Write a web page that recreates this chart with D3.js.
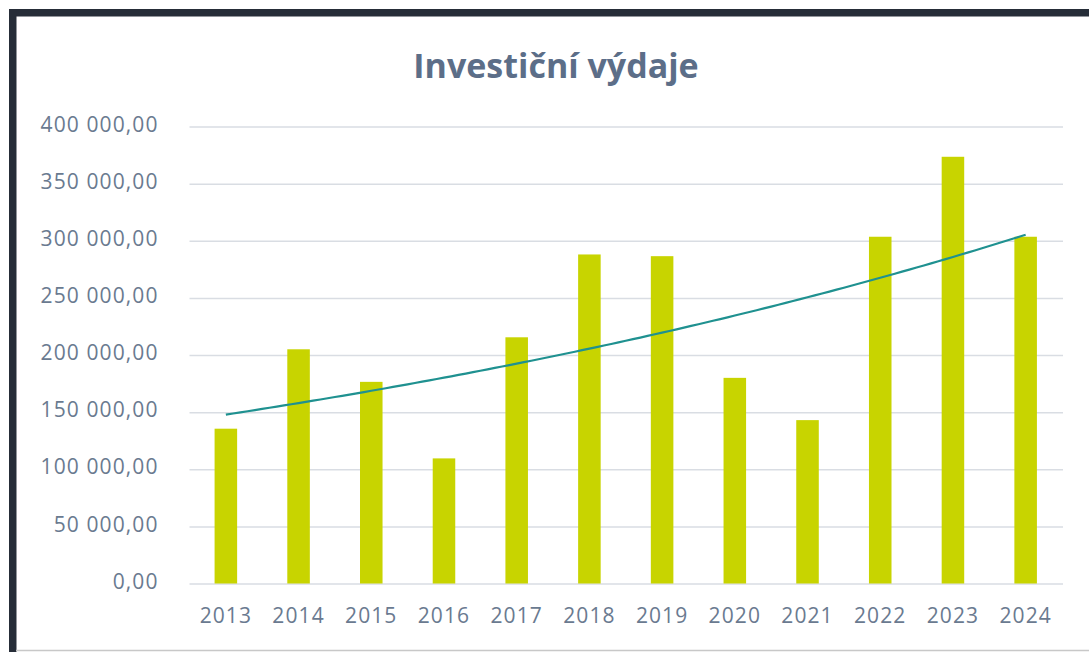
<!DOCTYPE html>
<html><head><meta charset="utf-8">
<script src="https://cdn.jsdelivr.net/npm/d3@7"></script>
<style>
html,body{margin:0;padding:0;background:#fff;}
svg{display:block;}
text{font-family:"Open Sans","Noto Sans",sans-serif;}
</style></head>
<body><svg id="c" width="1089" height="652"></svg>
<script>
const title = "Investiční výdaje";
const years = ["2013","2014","2015","2016","2017","2018","2019","2020","2021","2022","2023","2024"];
const values = [135500, 205000, 176500, 109500, 215500, 288000, 286500, 180000, 143000, 303500, 373500, 303500];
const yTicks = [0, 50000, 100000, 150000, 200000, 250000, 300000, 350000, 400000];

const svg = d3.select("#c");
const W = 1089, H = 652;
const plot = {left: 189.5, right: 1062, top: 126.5, bottom: 583.5};

// frame
svg.append("rect").attr("x",0).attr("y",0).attr("width",W).attr("height",H).attr("fill","#fff");
svg.append("rect").attr("x",9).attr("y",9).attr("width",W-9).attr("height",7.5).attr("fill","#262d38");
svg.append("rect").attr("x",9).attr("y",9).attr("width",7.5).attr("height",H-9).attr("fill","#262d38");
svg.append("line").attr("x1",16).attr("x2",W).attr("y1",650.5).attr("y2",650.5).attr("stroke","#c8c8c8").attr("stroke-width",1.5);

const x = d3.scaleBand().domain(years).range([plot.left, plot.right]).paddingInner(0.69).paddingOuter(0.345);
const y = d3.scaleLinear().domain([0, 400000]).range([plot.bottom, plot.top]);

const loc = d3.formatLocale({decimal: ",", thousands: "\u00a0", grouping: [3], currency: ["", ""]});
const fmt = loc.format(",.2f");

const fontFam = '"Open Sans","Noto Sans",sans-serif';

// gridlines + y labels
const yAxis = d3.axisLeft(y).tickValues(yTicks).tickFormat(fmt)
  .tickSize(-(plot.right - plot.left + 1)).tickPadding(31);
const gy = svg.append("g").attr("transform", `translate(${plot.left},0)`).call(yAxis);
gy.select(".domain").remove();
gy.selectAll(".tick line").attr("stroke", "#d9dde3").attr("stroke-width", 1.5);
gy.selectAll(".tick text").attr("fill", "#6a7a90").attr("font-size", 21)
  .attr("letter-spacing", 1.1).attr("dy", "0.22em").attr("font-family", fontFam);

// x labels
const xAxis = d3.axisBottom(x).tickSize(0).tickPadding(25);
const gx = svg.append("g").attr("transform", `translate(0,${plot.bottom})`).call(xAxis);
gx.select(".domain").remove();
gx.selectAll(".tick text").attr("fill", "#6a7a90").attr("font-size", 21)
  .attr("letter-spacing", 1.1).attr("font-family", fontFam);

// bars
svg.append("g").selectAll("rect").data(values).join("rect")
  .attr("x", (d,i) => x(years[i]))
  .attr("width", x.bandwidth())
  .attr("y", d => y(d))
  .attr("height", d => y(0) - y(d))
  .attr("fill", "#c8d400");

// exponential trendline fitted from data (least squares on ln y)
const n = values.length;
const xs = d3.range(n);
const ly = values.map(v => Math.log(v));
const mx = d3.mean(xs), my = d3.mean(ly);
const b = d3.sum(xs.map((t,i) => (t-mx)*(ly[i]-my))) / d3.sum(xs.map(t => (t-mx)*(t-mx)));
const a = my - b*mx;
const step = x.step();
const x0 = x(years[0]) + x.bandwidth()/2;
const samples = d3.range(0, n - 1 + 1e-9, 0.1);
const line = d3.line().x(t => x0 + t*step).y(t => y(Math.exp(a + b*t)));
svg.append("path").datum(samples).attr("d", line).attr("fill","none")
  .attr("stroke","#1f9190").attr("stroke-width",2.2);

// title
svg.append("text").attr("x", 556).attr("y", 78).attr("text-anchor","middle")
  .attr("font-size", 34).attr("font-weight", 700).attr("fill", "#5c6e88").text(title);
</script></body></html>
